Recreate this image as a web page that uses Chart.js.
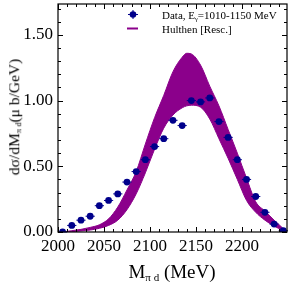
<!DOCTYPE html>
<html>
<head>
<meta charset="utf-8">
<script src="https://cdn.jsdelivr.net/npm/chart.js@4.4.1/dist/chart.umd.min.js"></script>
<style>
  html, body { margin: 0; padding: 0; background: #fff; }
  #wrap { position: relative; width: 291px; height: 291px; font-family: "Liberation Serif", "DejaVu Serif", serif; color: #000; }
  #wrap canvas { position: absolute; left: 0; top: 0; }
  .txt { position: absolute; white-space: nowrap; line-height: 1; }
  .txt sub { font-size: 0.58em; vertical-align: -0.25em; line-height: 0; }
  #xTitle { left: 172px; top: 262px; font-size: 19px; transform: translateX(-50%); }
  #yTitle { left: 14px; top: 117px; font-size: 15.5px; transform: translate(-50%, -50%) rotate(-90deg); }
  #yTitle sub { font-size: 0.55em; }
  .leg { font-size: 11px; left: 162px; }
  #legMarks { position: absolute; left: 0; top: 0; }
</style>
</head>
<body>
<div id="wrap">
  <canvas id="massChart" width="291" height="291"></canvas>
  <div class="txt" id="yTitle">dσ/dM<sub>π d</sub>(μ b/GeV)</div>
  <div class="txt" id="xTitle">M<sub>π d</sub> (MeV)</div>
  <div class="txt leg" style="top:9.5px">Data, E<sub>γ</sub>=1010-1150 MeV</div>
  <div class="txt leg" style="top:23.5px">Hulthen [Resc.]</div>
  <svg id="legMarks" width="291" height="40">
    <line x1="128" y1="14.5" x2="138" y2="14.5" stroke="#00008B" stroke-width="1"/>
    <line x1="133" y1="10" x2="133" y2="19" stroke="#00008B" stroke-width="1"/>
    <circle cx="133" cy="14.5" r="3.3" fill="#00008B"/>
    <line x1="127" y1="28.5" x2="138" y2="28.5" stroke="#8B008B" stroke-width="2"/>
  </svg>
</div>
<script>
/* ---- DATA ---- */
const dataMass  = [2005,2015,2025,2035,2045,2055,2065,2075,2085,2095,2105,2115,2125,2135,2145,2155,2165,2175,2185,2195,2205,2215,2225,2235,2245];
const dataXsec  = [0.00,0.05,0.09,0.12,0.20,0.24,0.29,0.38,0.46,0.55,0.65,0.71,0.85,0.81,1.00,0.99,1.02,0.84,0.72,0.55,0.40,0.27,0.15,0.06,0.01];
const dataMassErr = 5;

const bandMass  = [2005,2015,2025,2035,2045,2055,2065,2075,2085,2095,2105,2115,2125,2135,2140,2145,2155,2165,2175,2185,2195,2205,2215,2225,2235,2245,2248];
const bandUpper = [0,0.01,0.02,0.035,0.055,0.10,0.19,0.32,0.46,0.67,0.87,1.04,1.22,1.33,1.36,1.355,1.27,1.11,0.96,0.78,0.60,0.41,0.23,0.16,0.09,0.025,0];
const bandLower = [0,0.003,0.008,0.015,0.028,0.05,0.09,0.17,0.29,0.45,0.63,0.79,0.89,0.945,0.96,0.965,0.95,0.86,0.71,0.56,0.40,0.24,0.15,0.09,0.045,0.01,0];

const xTicks = [2000,2050,2100,2150,2200];
const yTicks = [0,0.5,1.0,1.5];
const X_MIN = 2000, X_MAX = 2249, Y_MIN = 0, Y_MAX = 1.735;

const PURPLE = '#8B008B';
const NAVY = '#00008B';

const toXY = (xs, ys) => xs.map((x, i) => ({ x, y: ys[i] }));

Chart.defaults.font.family = '"Liberation Serif", "DejaVu Serif", serif';
Chart.defaults.color = '#000';

/* ---- frame with inward ticks on all sides ---- */
const framePlugin = {
  id: 'frame',
  afterDatasetsDraw(chart) {
    const { ctx, chartArea: a, scales: { x, y } } = chart;
    ctx.save();
    ctx.strokeStyle = '#000';
    ctx.lineWidth = 1.2;
    ctx.strokeRect(a.left, a.top, a.right - a.left, a.bottom - a.top);
    ctx.lineWidth = 1;
    ctx.beginPath();
    for (let v = X_MIN; v <= X_MAX; v += 10) {
      const px = Math.round(x.getPixelForValue(v)) + 0.5;
      const len = v % 50 === 0 ? 5 : 3;
      ctx.moveTo(px, a.bottom); ctx.lineTo(px, a.bottom - len);
      ctx.moveTo(px, a.top); ctx.lineTo(px, a.top + len);
    }
    for (let k = 0; k / 10 <= Y_MAX; k++) {
      const py = Math.round(y.getPixelForValue(k / 10)) + 0.5;
      const len = k % 5 === 0 ? 5 : 3;
      ctx.moveTo(a.left, py); ctx.lineTo(a.left + len, py);
      ctx.moveTo(a.right, py); ctx.lineTo(a.right - len, py);
    }
    ctx.stroke();
    ctx.restore();
  }
};

/* ---- horizontal error bars on data points ---- */
const errPlugin = {
  id: 'errbars',
  beforeDatasetDraw(chart, args) {
    if (args.index !== 0) return;
    const { ctx, scales: { x, y } } = chart;
    ctx.save();
    ctx.strokeStyle = NAVY;
    ctx.lineWidth = 1;
    ctx.beginPath();
    dataMass.forEach((m, i) => {
      const py = y.getPixelForValue(dataXsec[i]);
      ctx.moveTo(x.getPixelForValue(m - dataMassErr), py);
      ctx.lineTo(x.getPixelForValue(m + dataMassErr), py);
    });
    ctx.stroke();
    ctx.restore();
  }
};

new Chart(document.getElementById('massChart'), {
  type: 'scatter',
  data: {
    datasets: [
      {
        label: 'Data',
        data: toXY(dataMass, dataXsec),
        backgroundColor: NAVY,
        borderColor: NAVY,
        pointRadius: 3.4,
        pointBorderWidth: 0,
        showLine: false,
        order: 0
      },
      {
        label: 'lower',
        type: 'line',
        data: toXY(bandMass, bandLower),
        borderColor: PURPLE,
        borderWidth: 1,
        pointRadius: 0,
        cubicInterpolationMode: 'monotone',
        fill: false,
        order: 2
      },
      {
        label: 'Hulthen [Resc.]',
        type: 'line',
        data: toXY(bandMass, bandUpper),
        borderColor: PURPLE,
        backgroundColor: PURPLE,
        borderWidth: 1,
        pointRadius: 0,
        cubicInterpolationMode: 'monotone',
        fill: 1,
        order: 1
      }
    ]
  },
  options: {
    responsive: false, animation: false,
    layout: { padding: { top: 3, right: 4, left: 0, bottom: 0 } },
    plugins: { legend: { display: false }, tooltip: { enabled: false } },
    scales: {
      x: {
        type: 'linear', min: X_MIN, max: X_MAX,
        afterBuildTicks: s => { s.ticks = xTicks.map(v => ({ value: v })); },
        afterFit: s => { s.height = 59; s.paddingLeft = 0; s.paddingRight = 0; },
        ticks: { font: { size: 17 }, color: '#000', padding: 4, maxRotation: 0, callback: v => String(v) },
        grid: { display: false, drawTicks: false },
        border: { display: false }
      },
      y: {
        type: 'linear', min: Y_MIN, max: Y_MAX,
        afterBuildTicks: s => { s.ticks = yTicks.map(v => ({ value: v })); },
        afterFit: s => { s.width = 58; s.paddingTop = 0; s.paddingBottom = 0; },
        ticks: { font: { size: 17 }, color: '#000', padding: 5, callback: v => v.toFixed(2) },
        grid: { display: false, drawTicks: false },
        border: { display: false }
      }
    }
  },
  plugins: [framePlugin, errPlugin]
});
</script>
</body>
</html>
